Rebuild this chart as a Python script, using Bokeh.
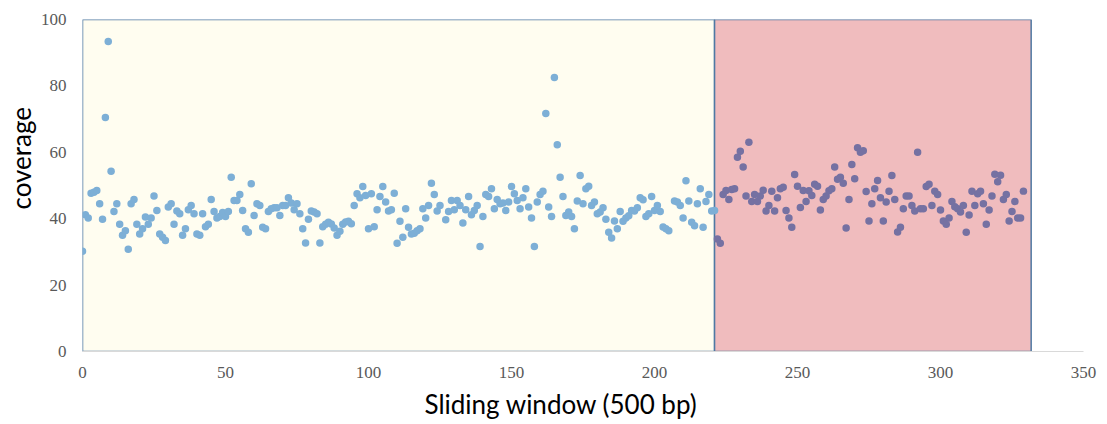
from bokeh.plotting import figure
from bokeh.models import Range1d, FixedTicker, Title
from bokeh.embed import file_html
from bokeh.resources import INLINE

# ---- data ----
blue_x = list(range(0, 126)) + list(range(127, 206)) + list(range(207, 222))
blue_y = [
    30.2, 41.2, 40.2, 47.7, 48.0, 48.5, 44.5, 39.8, 70.5, 93.4,
    54.3, 42.2, 44.5, 38.3, 35.0, 36.4, 30.8, 44.5, 45.8, 38.3,
    35.4, 37.0, 40.5, 38.3, 40.2, 46.8, 42.5, 35.4, 34.4, 33.4,
    43.5, 44.5, 38.3, 42.3, 41.5, 35.0, 37.0, 42.7, 44.0, 41.5,
    35.4, 35.0, 41.5, 37.6, 38.3, 45.8, 42.2, 40.2, 40.7, 41.9,
    40.7, 42.2, 52.5, 45.5, 45.5, 47.3, 42.5, 37.0, 35.9, 50.5,
    41.0, 44.5, 44.0, 37.4, 37.0, 42.2, 43.0, 43.3, 43.3, 41.0,
    44.0, 44.0, 46.3, 44.7, 42.7, 44.5, 41.5, 37.0, 32.7, 39.8,
    42.3, 42.0, 41.5, 32.7, 37.6, 38.3, 38.9, 38.4, 37.2, 35.0,
    36.2, 38.3, 39.0, 39.2, 38.5, 44.0, 47.5, 46.3, 49.7, 47.0,
    37.0, 47.5, 37.6, 42.7, 46.7, 49.7, 45.0, 42.3, 42.7, 47.7,
    32.6, 39.2, 34.4, 43.0, 37.4, 35.4, 35.6, 36.4, 37.0, 43.0,
    40.2, 44.0, 50.7, 47.3, 42.3, 44.0,
    # 127..205
    39.7, 42.2, 45.5, 42.7, 45.5, 44.0, 38.7, 42.7, 46.7, 41.2,
    42.5, 44.0, 31.6, 40.7, 47.3, 46.7, 49.0, 43.0, 45.8, 44.5,
    44.7, 42.5, 45.0, 49.7, 47.5, 45.5, 43.0, 46.3, 49.0, 43.5,
    40.2, 31.6, 45.0, 47.3, 48.3, 71.7, 43.5, 40.7, 82.5, 62.3,
    52.5, 46.7, 41.0, 42.0, 40.7, 37.0, 45.3, 53.0, 44.5, 49.0,
    49.8, 44.0, 45.0, 41.5, 42.0, 43.3, 39.8, 35.9, 34.2, 39.3,
    37.0, 42.2, 39.2, 40.2, 40.9, 42.5, 42.3, 43.3, 46.3, 45.7,
    40.7, 41.5, 46.7, 42.5, 44.0, 42.2, 37.5, 37.0, 36.4,
    # 207..221
    45.3, 45.0, 44.0, 40.2, 51.4, 45.3, 38.9, 37.9, 44.5, 49.0,
    37.4, 45.2, 47.3, 42.3, 42.5,
]
red_x = list(range(222, 330))
red_y = [
    33.9, 32.6, 47.3, 48.5, 45.8, 48.8, 49.0, 58.5, 60.3, 55.6,
    46.8, 63.0, 45.2, 47.3, 45.2, 46.8, 48.6, 42.3, 44.0, 48.3,
    42.3, 46.3, 49.0, 49.5, 42.5, 40.2, 37.4, 53.3, 49.8, 43.4,
    48.5, 45.2, 48.4, 47.0, 50.4, 49.8, 42.6, 45.8, 46.8, 48.4,
    49.0, 55.6, 51.9, 52.5, 50.7, 37.2, 45.8, 56.3, 52.0, 61.4,
    60.0, 60.5, 48.2, 39.3, 44.5, 49.0, 51.5, 46.3, 39.3, 45.0,
    48.3, 53.0, 45.8, 36.0, 37.4, 43.0, 46.8, 46.8, 44.0, 42.3,
    60.0, 43.0, 43.0, 49.7, 50.4, 44.0, 48.3, 47.3, 42.6, 39.3,
    38.3, 40.2, 45.2, 43.6, 43.0, 42.0, 44.0, 35.9, 41.1, 48.3,
    44.0, 47.5, 48.3, 44.5, 38.3, 42.6, 46.8, 53.4, 51.1, 53.1,
    45.8, 47.3, 39.3, 42.2, 45.2, 40.2, 40.2, 48.3,
]
region_left = [0, 221]
region_right = [221, 331.7]
region_fill = ["#fffdf0", "#f0bcbe"]
x_ticks = [0, 50, 100, 150, 200, 250, 300, 350]
y_ticks = [0, 20, 40, 60, 80, 100]
x_title = "Sliding window (500 bp)"
y_title = "coverage"

p = figure(width=1107, height=424, output_backend="svg", toolbar_location=None,
           x_range=Range1d(0, 350), y_range=Range1d(0, 100),
           min_border_left=82, min_border_right=24, min_border_top=19,
           min_border_bottom=73)
p.outline_line_color = None
p.grid.visible = False
p.background_fill_color = "white"

p.quad(left=region_left, right=region_right, bottom=[0, 0], top=[100, 100],
       fill_color=region_fill, line_color="#4f79a3", line_width=1.5)

p.scatter(blue_x, blue_y, size=7.5, fill_color="#7dafd6", line_color=None)
p.scatter(red_x, red_y, size=7.5, fill_color="#7571a2", line_color=None)

for ax in (p.xaxis, p.yaxis):
    ax.major_tick_line_color = None
    ax.minor_tick_line_color = None
    ax.major_tick_out = 0
    ax.major_tick_in = 0
    ax.minor_tick_out = 0
    ax.minor_tick_in = 0
    ax.major_label_text_font = "Liberation Serif"
    ax.major_label_text_font_size = "17px"
    ax.major_label_text_color = "#595959"

p.xaxis.ticker = FixedTicker(ticks=x_ticks)
p.yaxis.ticker = FixedTicker(ticks=y_ticks)
p.xaxis.axis_line_color = "#d9d9d9"
p.xaxis.axis_line_width = 1
p.yaxis.axis_line_color = None
p.xaxis.major_label_standoff = 15
p.yaxis.major_label_standoff = 16

# axis titles as side titles (off-centre like the reference)
p.add_layout(Title(text=x_title, align="left", offset=342, standoff=10,
                   text_font="Lato", text_font_size="26px",
                   text_font_style="normal", text_color="#000000"), "below")
p.add_layout(Title(text=y_title, align="left", offset=142, standoff=2,
                   text_font="Lato", text_font_size="26px",
                   text_font_style="normal", text_color="#000000"), "left")

open("out.html", "w").write(file_html(p, INLINE))
